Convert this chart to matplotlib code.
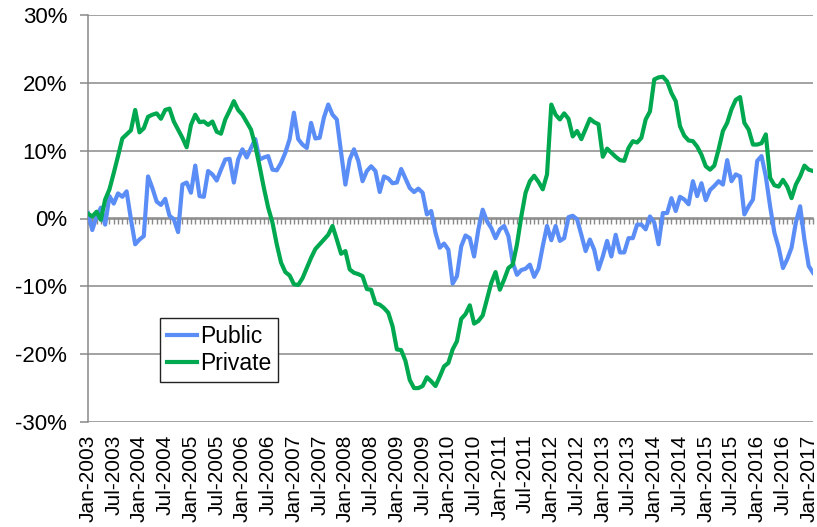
import matplotlib
matplotlib.use("Agg")
import matplotlib.pyplot as plt
from matplotlib.ticker import MultipleLocator, FixedLocator, FuncFormatter, NullFormatter

plt.rcParams['font.family'] = ['Liberation Sans', 'DejaVu Sans']

# Monthly series, Jan-2003 .. Feb-2017 (year-over-year % change)
public = [
    0.8, -1.7, 0.3, 1.6, -0.9, 3.3, 2.2, 3.7, 3.2, 4.0, -0.1, -3.8,
    -3.1, -2.6, 6.2, 4.5, 2.5, 2.0, 2.9, 0.4, -0.1, -2.0, 5.0, 5.3,
    3.8, 7.8, 3.3, 3.2, 7.0, 6.5, 5.6, 7.2, 8.7, 8.8, 5.3, 8.7,
    10.2, 9.0, 10.4, 11.7, 8.7, 9.0, 9.2, 7.2, 7.1, 8.2, 9.7, 11.7,
    15.6, 11.7, 10.9, 10.4, 14.1, 11.8, 11.9, 14.9, 16.8, 15.3, 14.6, 9.7,
    5.0, 8.7, 10.2, 8.5, 5.5, 7.0, 7.7, 7.0, 3.9, 6.2, 5.9, 5.2,
    5.3, 7.3, 5.9, 4.5, 3.9, 4.4, 3.8, 0.6, 1.1, -2.1, -4.3, -3.7,
    -4.6, -9.6, -8.5, -4.1, -2.5, -2.9, -5.6, -1.6, 1.3, -0.4, -1.4, -2.9,
    -1.6, -1.1, -2.6, -6.5, -8.3, -7.6, -7.4, -6.8, -8.6, -7.4, -4.1, -1.1,
    -3.2, -1.1, -3.3, -2.9, 0.2, 0.4, -0.1, -2.4, -4.8, -3.1, -4.6, -7.5,
    -5.6, -3.3, -5.6, -2.4, -5.0, -5.0, -2.9, -2.9, -0.9, -0.9, -1.6, 0.3,
    -0.6, -3.8, 0.8, 0.8, 3.0, 1.1, 3.2, 2.8, 2.1, 5.5, 3.3, 5.2,
    2.7, 4.2, 4.8, 5.5, 5.0, 8.6, 5.5, 6.5, 6.2, 0.6, 1.8, 2.8,
    8.5, 9.2, 6.2, 1.8, -2.1, -4.3, -7.3, -6.0, -4.3, -0.6, 1.8, -3.1,
    -7.0, -8.0,
]
private = [
    0.7, 0.3, 1.0, -0.2, 2.8, 4.3, 6.7, 9.2, 11.8, 12.4, 13.0, 16.0,
    12.7, 13.3, 15.0, 15.3, 15.5, 14.7, 16.0, 16.2, 14.3, 13.1, 11.9, 10.5,
    13.8, 15.3, 14.2, 14.3, 13.8, 14.3, 12.8, 12.5, 14.6, 15.9, 17.3, 16.0,
    15.3, 14.2, 13.1, 10.7, 7.7, 4.5, 1.6, -0.6, -3.8, -6.5, -7.9, -8.4,
    -9.7, -9.8, -8.8, -7.3, -5.8, -4.5, -3.8, -3.1, -2.4, -1.1, -3.1, -5.2,
    -4.8, -7.5, -8.0, -8.2, -8.5, -10.4, -10.5, -12.5, -12.7, -13.2, -13.9, -15.9,
    -19.3, -19.4, -21.0, -23.8, -25.0, -25.0, -24.7, -23.4, -24.0, -24.7, -23.3, -21.8,
    -21.3, -19.3, -18.1, -14.8, -14.1, -12.8, -15.5, -15.1, -14.3, -11.9, -9.5, -7.9,
    -10.5, -9.0, -7.3, -6.8, -3.8, 0.3, 3.8, 5.5, 6.3, 5.4, 4.3, 6.5,
    16.8, 15.3, 14.6, 15.5, 14.7, 12.1, 12.9, 11.7, 13.2, 14.7, 14.2, 13.9,
    9.1, 10.3, 9.7, 9.1, 8.6, 8.5, 10.4, 11.4, 11.2, 11.9, 14.6, 15.8,
    20.5, 20.8, 20.9, 20.2, 18.5, 17.3, 13.6, 12.2, 11.5, 11.4, 10.6, 9.4,
    7.7, 7.2, 7.8, 10.2, 12.9, 14.1, 16.1, 17.5, 17.9, 14.1, 13.1, 10.9,
    10.9, 11.1, 12.4, 6.0, 4.9, 4.7, 5.7, 4.7, 3.0, 5.0, 6.2, 7.8,
    7.2, 7.0,
]
tick_labels = []
for yr in range(2003, 2017):
    tick_labels += [f"Jan-{yr}", f"Jul-{yr}"]
tick_labels.append("Jan-2017")

months = list(range(len(public)))

W, H = 817, 527
fig = plt.figure(figsize=(W / 100, H / 100), dpi=100)
ax = fig.add_axes([88 / W, 1 - 422 / H, (813 - 88) / W, (422 - 15) / H])

grid_c = '#898989'
ax.set_ylim(-30, 30)
ax.set_xlim(0, len(public) - 1)
ax.yaxis.set_major_locator(MultipleLocator(10))
ax.yaxis.set_major_formatter(FuncFormatter(lambda v, p: f"{v:.0f}%"))
ax.grid(axis='y', color=grid_c, lw=1.1, zorder=0)
ax.set_axisbelow(True)

for s in ['top', 'right', 'bottom']:
    ax.spines[s].set_visible(False)
ax.spines['left'].set_color(grid_c)
ax.spines['left'].set_linewidth(1.1)
ax.tick_params(axis='y', direction='out', length=6, width=1.1, color=grid_c,
               pad=9, labelsize=16)

ax.set_xticks(range(0, len(tick_labels) * 6, 6))
ax.set_xticklabels(tick_labels, rotation=90, fontsize=15)
ax.tick_params(axis='x', length=0, pad=9)

# Category axis crossing at 0% with monthly tick marks pointing down
sec = ax.secondary_xaxis(0.5)
for sp in sec.spines.values():
    sp.set_color(grid_c)
    sp.set_linewidth(1.1)
sec.xaxis.set_major_locator(FixedLocator(months))
sec.xaxis.set_major_formatter(NullFormatter())
sec.xaxis.set_ticks_position('bottom')
sec.tick_params(axis='x', which='both', direction='out', length=4, width=1,
                color=grid_c, labelbottom=False, labeltop=False)

ax.plot(months, public, color='#5B8DF7', lw=3, label='Public', zorder=3,
        solid_joinstyle='round')
ax.plot(months, private, color='#00A84F', lw=3, label='Private', zorder=3,
        solid_joinstyle='round')

leg = ax.legend(loc='upper left', bbox_to_anchor=((160 - 88) / 725, (422 - 318) / 407),
                borderaxespad=0, fontsize=16.5, frameon=True, fancybox=False,
                handlelength=1.3, handletextpad=0.15, labelspacing=0.2,
                borderpad=0.3)
leg.get_frame().set_edgecolor('#222222')
leg.get_frame().set_linewidth(1.0)
leg.get_frame().set_alpha(1)
leg.set_zorder(5)

fig.savefig('out.png', dpi=100)
